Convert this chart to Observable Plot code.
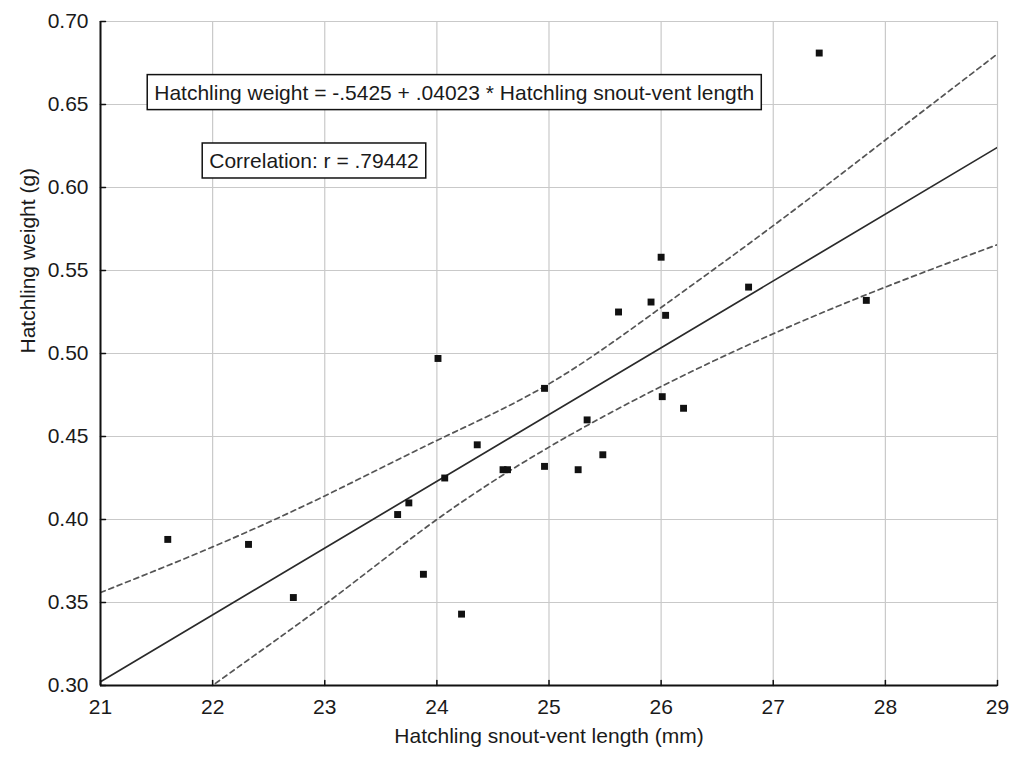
<!DOCTYPE html>
<html>
<head>
<meta charset="utf-8">
<script src="https://cdn.jsdelivr.net/npm/d3@7"></script>
<script src="https://cdn.jsdelivr.net/npm/@observablehq/plot@0.6"></script>
<style>
  html, body { margin: 0; padding: 0; background: #fff; }
  #chart svg { display: block; }
</style>
</head>
<body>
<div id="chart"></div>
<script>
// ---- data ----
const lengths = [21.60, 22.32, 22.72, 23.65, 23.75, 23.88, 24.01, 24.07, 24.22, 24.36, 24.59, 24.63, 24.96, 24.96, 25.26, 25.34, 25.48, 25.62, 25.91, 26.00, 26.04, 26.01, 26.20, 26.78, 27.41, 27.83];
const weights = [0.388, 0.385, 0.353, 0.403, 0.410, 0.367, 0.497, 0.425, 0.343, 0.445, 0.430, 0.430, 0.479, 0.432, 0.430, 0.460, 0.439, 0.525, 0.531, 0.558, 0.523, 0.474, 0.467, 0.540, 0.681, 0.532];

const xTicks = [21, 22, 23, 24, 25, 26, 27, 28, 29];
const yTicks = [0.30, 0.35, 0.40, 0.45, 0.50, 0.55, 0.60, 0.65, 0.70];

const fitX = [21, 29];
const fitY = [0.3023, 0.6242];

const bandX = [21, 22, 23, 24, 25, 26, 27, 28, 29];
const bandUpper = [0.356, 0.3835, 0.4142, 0.4476, 0.4817, 0.5277, 0.5770, 0.6286, 0.6805];
const bandLower = [0.249, 0.3000, 0.3488, 0.4000, 0.4436, 0.4801, 0.5119, 0.5400, 0.5656];

const annoText = ["Hatchling weight = -.5425 + .04023 * Hatchling snout-vent length", "Correlation: r = .79442"];
const annoX = [24.155, 22.904];
const annoY = [0.657, 0.6158];

const xLabel = "Hatchling snout-vent length (mm)";
const yLabel = "Hatchling weight (g)";

// ---- build tables ----
const points = lengths.map((x, i) => ({x, y: weights[i]}));
const fit = fitX.map((x, i) => ({x, y: fitY[i]}));
const upper = bandX.map((x, i) => ({x, y: bandUpper[i]}));
const lower = bandX.map((x, i) => ({x, y: bandLower[i]}));
const annos = annoText.map((t, i) => ({t, x: annoX[i], y: annoY[i]}));

const xMin = xTicks[0], yMin = yTicks[0];
const tickShape = { draw(context, l) { context.moveTo(0, 0); context.lineTo(0, -l); } };
const ink = "#1a1a1a";

const chart = Plot.plot({
  width: 1011,
  height: 763,
  marginLeft: 100,
  marginRight: 14,
  marginTop: 21,
  marginBottom: 78,
  style: { fontFamily: "'Liberation Sans', Arial, sans-serif", fontSize: "21px", color: ink, background: "#fff" },
  x: { domain: [21, 29] },
  y: { domain: [0.30, 0.70] },
  marks: [
    Plot.gridX(xTicks, { stroke: "#c9c9c9", strokeOpacity: 1, strokeWidth: 1.2 }),
    Plot.gridY(yTicks, { stroke: "#c9c9c9", strokeOpacity: 1, strokeWidth: 1.2 }),
    Plot.line(upper, { x: "x", y: "y", curve: "natural", stroke: "#555", strokeWidth: 1.7, strokeDasharray: "5,4", clip: true }),
    Plot.line(lower, { x: "x", y: "y", curve: "natural", stroke: "#555", strokeWidth: 1.7, strokeDasharray: "5,4", clip: true }),
    Plot.line(fit, { x: "x", y: "y", stroke: "#2a2a2a", strokeWidth: 1.7, clip: true }),
    Plot.dot(points, { x: "x", y: "y", symbol: "square", r: 3.9, fill: "#111", stroke: "none" }),
    Plot.axisX(xTicks, { tickSize: 0, tickPadding: 14, label: null, fill: ink }),
    Plot.axisY(yTicks, { tickSize: 0, tickPadding: 12, label: null, tickFormat: d3.format(".2f"), fill: ink }),
    Plot.ruleY([yMin], { stroke: "#111", strokeWidth: 2 }),
    Plot.ruleX([xMin], { stroke: "#111", strokeWidth: 2 }),
    Plot.vector(xTicks, { x: d => d, y: () => yMin, length: 5, rotate: 0, anchor: "start", shape: tickShape, stroke: "#111", strokeWidth: 1.5 }),
    Plot.vector(yTicks, { x: () => xMin, y: d => d, length: 5, rotate: 90, anchor: "start", shape: tickShape, stroke: "#111", strokeWidth: 1.5 }),
    Plot.text(annos, { x: "x", y: "y", text: "t", fill: ink }),
    Plot.text([xLabel], { frameAnchor: "bottom", dy: 57, text: d => d, fill: ink }),
    Plot.text([yLabel], { frameAnchor: "left", dx: -72, rotate: -90, text: d => d, fill: ink })
  ]
});

document.getElementById("chart").appendChild(chart);

// boxes around the annotation texts (same transform as the text they frame)
d3.select(chart).selectAll("text").each(function () {
  if (annoText.includes(this.textContent)) {
    const b = this.getBBox();
    const cy = b.y + b.height / 2;
    const r = d3.select(this.parentNode).insert("rect", () => this)
      .attr("x", b.x - 7).attr("y", cy - 17.5)
      .attr("width", b.width + 14).attr("height", 35)
      .attr("fill", "#fff").attr("stroke", "#111").attr("stroke-width", 1.5);
    const t = this.getAttribute("transform");
    if (t) r.attr("transform", t);
  }
});
</script>
</body>
</html>
